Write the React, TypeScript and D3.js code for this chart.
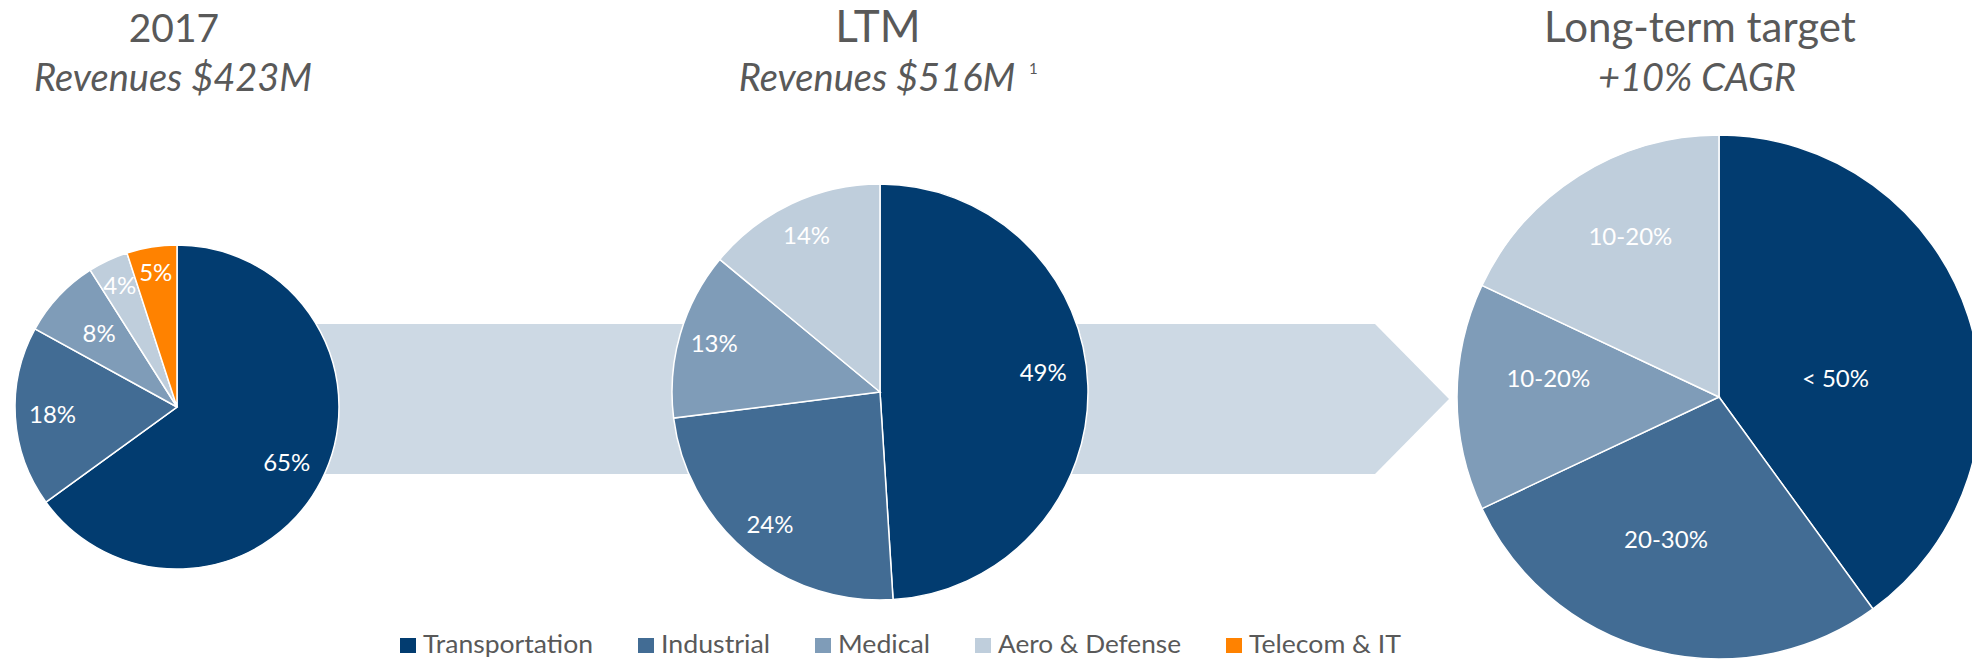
import React from "react";
import * as d3 from "d3";

const W = 1972;
const H = 660;

const categories = ["Transportation", "Industrial", "Medical", "Aero & Defense", "Telecom & IT"];
const colors = ["#023c70", "#426c94", "#7f9cb8", "#bfcedc", "#ff8200"];

// 2017 split (% of revenue)
const share2017 = [65, 18, 8, 4, 5];
const labels2017 = ["65%", "18%", "8%", "4%", "5%"];

// LTM split
const shareLTM = [49, 24, 13, 14];
const labelsLTM = ["49%", "24%", "13%", "14%"];

// long-term target: ranges, angles
const shareTarget = [40, 28, 14, 18];
const labelsTarget = ["< 50%", "20-30%", "10-20%", "10-20%"];

const titles = ["2017", "LTM", "Long-term target"];
const subtitles = ["Revenues $423M", "Revenues $516M", "+10% CAGR"];

const FONT = "Lato, 'Open Sans', sans-serif";
const GREY = "#595959";

// lr = label radius (fraction of r), la = label angle nudge in degrees
const pies = [
  { values: share2017, labels: labels2017, cx: 177, cy: 407, r: 162,
    lr: [0.76, 0.77, 0.66, 0.83, 0.84], la: [0, 0, 0, 0, 0] },
  { values: shareLTM, labels: labelsLTM, cx: 880, cy: 392, r: 208,
    lr: [0.79, 0.83, 0.83, 0.83], la: [-5, 0, 0, 0] },
  { values: shareTarget, labels: labelsTarget, cx: 1719, cy: 397, r: 262,
    lr: [0.45, 0.58, 0.655, 0.7], la: [9, 6, 6, 3.5] },
];

const pieGen = d3.pie<number>().sort(null).value((d) => d);

// legend text widths as rendered in the source
const legendWidths = [170, 109, 92, 183, 152];

function Pie({ p }: { p: (typeof pies)[number] }) {
  const arcs = pieGen(p.values);
  const arc = d3.arc<d3.PieArcDatum<number>>().innerRadius(0).outerRadius(p.r);
  return (
    <g transform={`translate(${p.cx},${p.cy})`}>
      {arcs.map((a, i) => (
        <path key={i} d={arc(a) || ""} fill={colors[i]} stroke="#fff" strokeWidth={1.5} />
      ))}
      {arcs.map((a, i) => {
        const ang = (a.startAngle + a.endAngle) / 2 + (p.la[i] * Math.PI) / 180;
        const rr = p.r * p.lr[i];
        const x = rr * Math.sin(ang);
        const y = -rr * Math.cos(ang);
        return (
          <text key={i} x={x} y={y} dy="0.35em" textAnchor="middle" fill="#fff"
            fontFamily={FONT} fontSize={24}>
            {p.labels[i]}
          </text>
        );
      })}
    </g>
  );
}

export default function App() {
  let lx = 400;
  const legend = categories.map((c, i) => {
    const x = lx;
    lx += 23 + legendWidths[i] + 45;
    return (
      <g key={c}>
        <rect x={x} y={638} width={16} height={15} fill={colors[i]} />
        <text x={x + 23} y={653} fontFamily={FONT} fontSize={25} fill={GREY}
          textLength={legendWidths[i]} lengthAdjust="spacingAndGlyphs">{c}</text>
      </g>
    );
  });

  const titleX = [174, 878, 1700];
  const titleSize = [39, 44, 42];
  const subX = [173, 877, 1697];

  return (
    <div style={{ position: "fixed", left: 0, top: 0 }}>
      <svg width={W} height={H} viewBox={`0 0 ${W} ${H}`} style={{ display: "block", background: "#fff" }}>
        <polygon points="250,324 1375,324 1449,399 1375,474 250,474" fill="#cdd9e4" />
        {pies.map((p, i) => <Pie key={i} p={p} />)}
        {titles.map((t, i) => (
          <text key={t} x={titleX[i]} y={42} textAnchor="middle" fontFamily={FONT}
            fontSize={titleSize[i]} fill={GREY}>{t}</text>
        ))}
        {subtitles.map((t, i) => (
          <text key={t} x={subX[i]} y={91} textAnchor="middle" fontFamily={FONT}
            fontSize={38} fontStyle="italic" fill={GREY}>{t}</text>
        ))}
        <text x={1029} y={74} fontFamily={FONT} fontSize={15} fill={GREY}>1</text>
        {legend}
      </svg>
    </div>
  );
}
